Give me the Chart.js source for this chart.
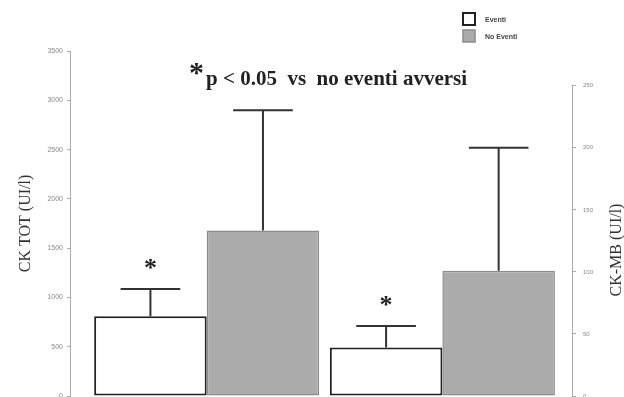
<!DOCTYPE html>
<html>
<head>
<meta charset="utf-8">
<script src="https://cdn.jsdelivr.net/npm/chart.js@4/dist/chart.umd.min.js"></script>
<style>
  html, body { margin: 0; padding: 0; background: #fff; }
  #wrap { width: 624px; height: 397px; position: relative; }
</style>
</head>
<body>
<div id="wrap"><canvas id="ckChart"></canvas></div>
<script>
// data
const categories = ['CK TOT', 'CK-MB'];
const seriesNames = ['Eventi', 'No Eventi'];
const eventi = [810, 39];
const noEventi = [1680, 101];
const eventiSD = [275, 17.5];
const noEventiSD = [1220, 99];
const significant = [true, true];      // asterisk over the Eventi bar
const leftTicks = [0, 500, 1000, 1500, 2000, 2500, 3000, 3500];
const rightTicks = [0, 50, 100, 150, 200, 250];
const axisOf = ['y', 'y1'];            // CK TOT on the left axis, CK-MB on the right

const fills = ['#ffffff', '#ababab'];
const borders = ['#222222', '#8c8c8c'];

// one dataset per series per axis; nulls are skipped so each group keeps two bars
const datasets = [];
categories.forEach((cat, ci) => {
  [eventi, noEventi].forEach((vals, si) => {
    datasets.push({
      label: seriesNames[si],
      data: categories.map((_, k) => (k === ci ? vals[k] : null)),
      sd: categories.map((_, k) => (k === ci ? [eventiSD, noEventiSD][si][k] : null)),
      star: si === 0 && significant[ci],
      yAxisID: axisOf[ci],
      backgroundColor: fills[si],
      borderColor: borders[si],
      borderWidth: si === 0 ? 2 : 1.5,
      borderSkipped: false,
      categoryPercentage: 0.955,
      barPercentage: 1.0
    });
  });
});

const errorBars = {
  id: 'errorBars',
  afterDatasetsDraw(chart) {
    const ctx = chart.ctx;
    ctx.save();
    chart.data.datasets.forEach((ds, di) => {
      const meta = chart.getDatasetMeta(di);
      const scale = chart.scales[ds.yAxisID];
      meta.data.forEach((bar, i) => {
        if (ds.data[i] == null) return;
        const top = scale.getPixelForValue(ds.data[i] + ds.sd[i]);
        const half = bar.width * 0.265;
        ctx.strokeStyle = '#333';
        ctx.lineWidth = 2;
        ctx.beginPath();
        ctx.moveTo(bar.x, bar.y);
        ctx.lineTo(bar.x, top);
        ctx.moveTo(bar.x - half, top);
        ctx.lineTo(bar.x + half, top);
        ctx.stroke();
        if (ds.star) {
          ctx.fillStyle = '#222';
          ctx.font = 'bold 26px "Liberation Serif"';
          ctx.textAlign = 'center';
          ctx.textBaseline = 'alphabetic';
          ctx.fillText('*', bar.x, top - 13);
        }
      });
    });
    ctx.restore();
  }
};

const decorations = {
  id: 'decorations',
  afterDraw(chart) {
    const ctx = chart.ctx;
    const y1 = chart.scales.y1;
    ctx.save();
    // right axis line only up to its last tick
    ctx.strokeStyle = '#aaaaaa';
    ctx.lineWidth = 1;
    ctx.beginPath();
    ctx.moveTo(y1.left + 0.5, y1.getPixelForValue(0));
    ctx.lineTo(y1.left + 0.5, y1.getPixelForValue(rightTicks[rightTicks.length - 1]));
    ctx.stroke();

    // right axis title, reading bottom to top
    ctx.fillStyle = '#333';
    ctx.font = '16px "Liberation Serif"';
    ctx.textAlign = 'center';
    ctx.textBaseline = 'middle';
    ctx.translate(617, 250);
    ctx.rotate(-Math.PI / 2);
    ctx.fillText('CK-MB (UI/l)', 0, 0);
    ctx.restore();

    // title
    ctx.save();
    ctx.fillStyle = '#222';
    ctx.textAlign = 'left';
    ctx.textBaseline = 'alphabetic';
    ctx.font = 'bold 30px "Liberation Serif"';
    ctx.fillText('*', 189, 82);
    ctx.font = 'bold 21px "Liberation Serif"';
    ctx.fillText('p < 0.05  vs  no eventi avversi', 206, 85);

    // legend
    const items = [0, 1];
    items.forEach(si => {
      const y = 13 + si * 17;
      ctx.fillStyle = fills[si];
      ctx.fillRect(463, y, 12, 12);
      ctx.strokeStyle = borders[si];
      ctx.lineWidth = si === 0 ? 2 : 1.5;
      ctx.strokeRect(463, y, 12, 12);
      ctx.fillStyle = '#444';
      ctx.font = 'bold 7px "Liberation Sans"';
      ctx.textBaseline = 'middle';
      ctx.fillText(seriesNames[si], 485, y + 7);
    });
    ctx.restore();
  }
};

new Chart(document.getElementById('ckChart'), {
  type: 'bar',
  data: { labels: categories, datasets },
  plugins: [errorBars, decorations],
  options: {
    responsive: true,
    maintainAspectRatio: false,
    animation: false,
    skipNull: true,
    layout: { padding: { top: 51, bottom: 1, left: 0, right: 0 } },
    plugins: {
      legend: { display: false },
      title: { display: false },
      tooltip: { enabled: false }
    },
    scales: {
      x: {
        display: false,
        offset: true,
        afterBuildTicks: s => { s._startValue = -0.58; s._valueRange = 2.13; }
      },
      y: {
        position: 'left',
        min: 0,
        max: 3500,
        afterBuildTicks: s => { s.ticks = leftTicks.map(v => ({ value: v })); },
        afterFit: s => { s.width = 70; s.paddingTop = 0; s.paddingBottom = 0; },
        grid: { drawOnChartArea: false, tickLength: 3, color: '#aaaaaa' },
        border: { color: '#aaaaaa' },
        ticks: {
          padding: 4, color: '#888',
          font: { family: 'Liberation Sans', size: 7 },
          callback: v => String(v)
        },
        title: {
          display: true,
          text: 'CK TOT (UI/l)',
          color: '#333',
          font: { family: 'Liberation Serif', size: 16 },
          padding: { top: 16, bottom: 0 }
        }
      },
      y1: {
        position: 'right',
        min: 0,
        max: 278,
        afterBuildTicks: s => { s.ticks = rightTicks.map(v => ({ value: v })); },
        afterFit: s => { s.width = 52; s.paddingTop = 0; s.paddingBottom = 0; },
        grid: { drawOnChartArea: false, tickLength: 4, color: '#aaaaaa' },
        border: { display: false },
        ticks: {
          padding: 7, color: '#888',
          font: { family: 'Liberation Sans', size: 6 },
          callback: v => String(v)
        }
      }
    }
  }
});
</script>
</body>
</html>
